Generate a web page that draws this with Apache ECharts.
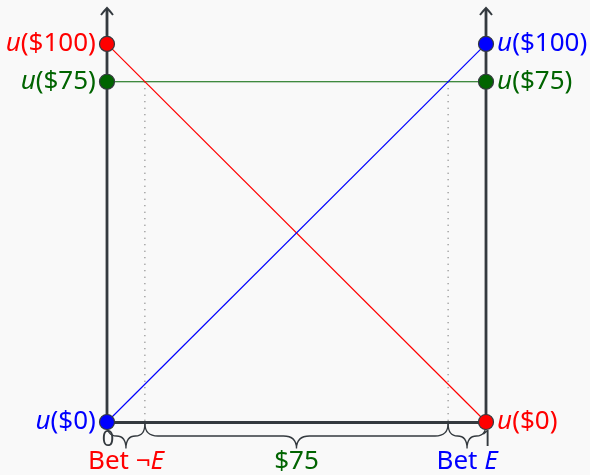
<!DOCTYPE html>
<html><head><meta charset="utf-8">
<script src="https://cdn.jsdelivr.net/npm/echarts@6/dist/echarts.min.js"></script>
<style>html,body{margin:0;padding:0;background:#f9f9f9}#c{width:590px;height:475px}</style>
</head><body><div id="c"></div>
<script>
// ---- Data ----
const axisPositions = [0, 1];              // x positions of the two vertical axes
const axisTickLabels = ['0', '1'];
const outcomeNames = ['$0', '$75', '$100'];
const outcomeUtilities = [0, 0.9, 1];      // u($0), u($75), u($100)
const betNotE = [1, 0];                    // utility at x=0 and x=1 for "Bet ¬E"
const betE = [0, 1];                       // utility at x=0 and x=1 for "Bet E"
const sure75 = [0.9, 0.9];                 // utility of $75 for sure
const yTop = 1.095;                        // top of the vertical axes (arrow tip)
const braceLabels = ['Bet ¬{i|E}', '$75', 'Bet {i|E}'];

// ---- Derived ----
const RED = '#ff0000', GREEN = '#006400', BLUE = '#0000ff', AX = '#343a3f';
const FONT = '"Noto Sans", sans-serif';
const FS = 26;
const xNotE = (betNotE[0] - sure75[0]) / (betNotE[0] - betNotE[1]);
const xE = (sure75[0] - betE[0]) / (betE[1] - betE[0]);
const braceBounds = [axisPositions[0], xNotE, xE, axisPositions[1]];
const braceColors = [RED, GREEN, BLUE];

function uLabel(k) { return '{i|u}{n|(' + outcomeNames[k] + ')}'; }

const pointDefs = [
  {x: axisPositions[0], k: 2, c: RED, side: 'left'},
  {x: axisPositions[0], k: 1, c: GREEN, side: 'left'},
  {x: axisPositions[0], k: 0, c: BLUE, side: 'left'},
  {x: axisPositions[1], k: 2, c: BLUE, side: 'right'},
  {x: axisPositions[1], k: 1, c: GREEN, side: 'right'},
  {x: axisPositions[1], k: 0, c: RED, side: 'right'}
];

const chart = echarts.init(document.getElementById('c'), null, {renderer: 'canvas'});
chart.setOption({
  backgroundColor: '#f9f9f9',
  animation: false,
  grid: {left: 107, right: 104, top: 8, bottom: 53},
  xAxis: {
    type: 'value', min: 0, max: 1, interval: 1,
    axisLine: {show: true, lineStyle: {color: AX, width: 2.8}},
    axisTick: {show: false}, splitLine: {show: false},
    axisLabel: {show: false}
  },
  yAxis: {type: 'value', min: 0, max: yTop, show: false, splitLine: {show: false}},
  series: [
    { // dotted guides
      type: 'line', z: 1, symbol: 'none', silent: true,
      data: [[xNotE, sure75[0]], [xNotE, 0]],
      lineStyle: {color: '#555', width: 1, type: [1, 5.5]}
    },
    {
      type: 'line', z: 1, symbol: 'none', silent: true,
      data: [[xE, sure75[1]], [xE, 0]],
      lineStyle: {color: '#555', width: 1, type: [1, 5.5]}
    },
    {
      type: 'line', z: 2, symbol: 'none', silent: true,
      data: axisPositions.map((x, i) => [x, sure75[i]]),
      lineStyle: {color: GREEN, width: 1.2}
    },
    {
      type: 'line', z: 2, symbol: 'none', silent: true,
      data: axisPositions.map((x, i) => [x, betNotE[i]]),
      lineStyle: {color: RED, width: 1.2}
    },
    {
      type: 'line', z: 2, symbol: 'none', silent: true,
      data: axisPositions.map((x, i) => [x, betE[i]]),
      lineStyle: {color: BLUE, width: 1.2}
    },
    { // vertical axes with arrows
      type: 'custom', z: 3, silent: true,
      data: axisPositions.map(x => [x, 0]),
      encode: {x: 0, y: 1},
      renderItem(params, api) {
        const x = api.value(0);
        const b = api.coord([x, 0]);
        const t = api.coord([x, yTop]);
        return {type: 'group', children: [
          {type: 'line', shape: {x1: b[0], y1: b[1] + 1.4, x2: t[0], y2: t[1] + 1},
           style: {stroke: AX, lineWidth: 2.8}},
          {type: 'path', shape: {pathData:
            'M' + (t[0] - 6) + ' ' + (t[1] + 7) + ' Q' + (t[0] - 2) + ' ' + (t[1] + 2) + ' ' + t[0] + ' ' + t[1] +
            ' Q' + (t[0] + 2) + ' ' + (t[1] + 2) + ' ' + (t[0] + 6) + ' ' + (t[1] + 7)},
           style: {stroke: AX, lineWidth: 2, fill: null}}
        ]};
      }
    },
    { // tick labels 0 / 1 under the axes
      type: 'custom', z: 7, silent: true,
      data: axisPositions.map((x, i) => [x, 0, i]),
      encode: {x: 0, y: 1},
      renderItem(params, api) {
        const b = api.coord([api.value(0), 0]);
        return {type: 'text', x: b[0] + 1, y: b[1] + 18, style: {
          text: axisTickLabels[params.dataIndex], fill: AX, fontSize: 22, fontFamily: FONT,
          align: 'center', verticalAlign: 'middle'}};
      }
    },
    { // points
      type: 'scatter', z: 5, symbol: 'circle', symbolSize: 15,
      data: pointDefs.map(p => ({
        value: [p.x, outcomeUtilities[p.k]],
        itemStyle: {color: p.c, borderColor: AX, borderWidth: 1.2, opacity: 1},
        label: {
          show: true, position: p.side, distance: 3, color: p.c,
          fontSize: FS, fontFamily: FONT,
          formatter: () => uLabel(p.k),
          rich: {
            i: {fontStyle: 'italic', fontFamily: FONT, fontSize: FS, color: p.c},
            n: {fontFamily: FONT, fontSize: FS, color: p.c}
          }
        }
      }))
    },
    { // braces
      type: 'custom', z: 4, silent: true,
      data: [0, 1, 2].map(i => [braceBounds[i], 0, braceBounds[i + 1], i]),
      encode: {x: [0, 2], y: 1},
      renderItem(params, api) {
        const p1 = api.coord([api.value(0), 0]);
        const p2 = api.coord([api.value(2), 0]);
        const idx = params.dataIndex;
        const y0 = p1[1] + 1.5, h = 25, hm = y0 + h / 2;
        const x1 = p1[0], x2 = p2[0], m = (x1 + x2) / 2;
        const r = Math.min(13, (x2 - x1) / 4);
        const d = 'M' + x1 + ' ' + y0 +
          ' Q' + x1 + ' ' + hm + ' ' + (x1 + r) + ' ' + hm +
          ' L' + (m - r) + ' ' + hm +
          ' Q' + m + ' ' + hm + ' ' + m + ' ' + (y0 + h) +
          ' Q' + m + ' ' + hm + ' ' + (m + r) + ' ' + hm +
          ' L' + (x2 - r) + ' ' + hm +
          ' Q' + x2 + ' ' + hm + ' ' + x2 + ' ' + y0;
        const c = braceColors[idx];
        return {type: 'group', children: [
          {type: 'path', shape: {pathData: d}, style: {stroke: AX, lineWidth: 1.3, fill: null}},
          {type: 'text', x: m, y: y0 + h + 13, style: {
            text: braceLabels[idx], fill: c, fontSize: FS, fontFamily: FONT,
            align: 'center', verticalAlign: 'middle',
            rich: {i: {fontStyle: 'italic', fontSize: FS, fontFamily: FONT, fill: c}}
          }}
        ]};
      }
    }
  ]
});
</script></body></html>
